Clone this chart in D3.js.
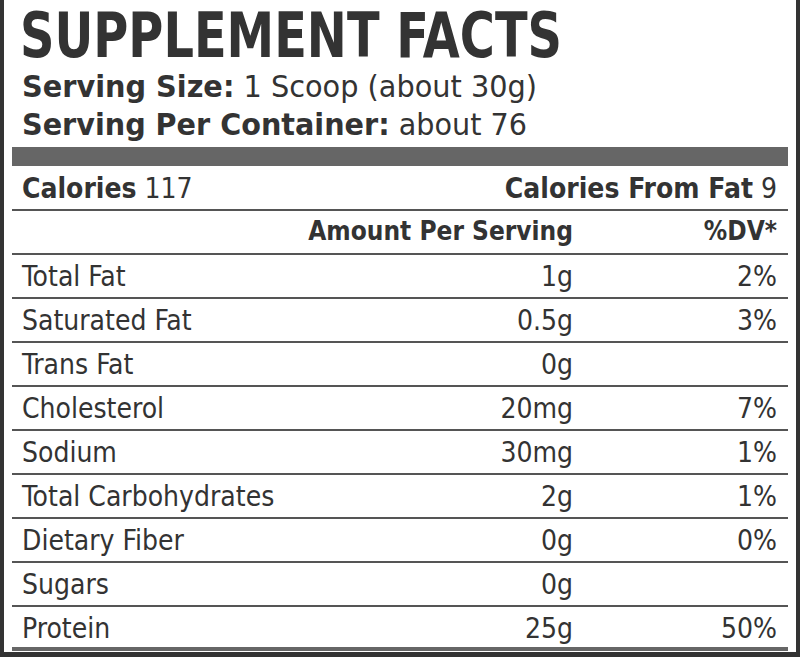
<!DOCTYPE html><html><head><meta charset="utf-8">
<script src="https://cdn.jsdelivr.net/npm/d3@7"></script>
<style>body{margin:0;background:#fff}</style></head><body>
<script>
const title = "SUPPLEMENT FACTS";
const servingInfo = [["Serving Size:", " 1 Scoop (about 30g)"], ["Serving Per Container:", " about 76"]];
const calories = ["Calories", " 117"];
const caloriesFat = ["Calories From Fat", " 9"];
const headers = ["Amount Per Serving", "%DV*"];
const nutrients = ["Total Fat","Saturated Fat","Trans Fat","Cholesterol","Sodium","Total Carbohydrates","Dietary Fiber","Sugars","Protein"];
const amounts = ["1g","0.5g","0g","20mg","30mg","2g","0g","0g","25g"];
const dv = ["2%","3%","","7%","1%","1%","0%","","50%"];

const W=800,H=657,C="#333";
const F="'DejaVu Sans Condensed','DejaVu Sans',sans-serif";
const svg=d3.select("body").append("svg").attr("width",W).attr("height",H);
svg.append("rect").attr("width",W).attr("height",H).attr("fill","#fff");
svg.append("rect").attr("x",0).attr("y",0).attr("width",4).attr("height",H).attr("fill",C);
svg.append("rect").attr("x",796).attr("y",0).attr("width",4).attr("height",H).attr("fill",C);
svg.append("rect").attr("x",0).attr("y",652).attr("width",W).attr("height",5).attr("fill",C);
svg.append("rect").attr("x",12).attr("y",147).attr("width",776).attr("height",19).attr("fill","#666");
svg.append("rect").attr("x",12).attr("y",647).attr("width",776).attr("height",4).attr("fill","#666");

svg.append("text").attr("x",20).attr("y",57).attr("font-family",F).attr("font-weight","bold")
 .attr("font-size",62).attr("fill",C).attr("textLength",542).attr("lengthAdjust","spacingAndGlyphs").text(title);
const sw=[515,505];
servingInfo.forEach((s,i)=>{
 const t=svg.append("text").attr("x",22).attr("y",97+i*38).attr("font-family",F).attr("font-size",31).attr("fill",C)
  .attr("textLength",sw[i]).attr("lengthAdjust","spacingAndGlyphs");
 t.append("tspan").attr("font-weight","bold").text(s[0]); t.append("tspan").text(s[1]);
});
const y=d3.scaleLinear().domain([0,1]).range([166,210]);
d3.range(1,11).forEach(k=>svg.append("rect").attr("x",12).attr("width",776).attr("y",y(k)-1).attr("height",2).attr("fill","#555"));
const row=(k)=>y(k)+32;
let t=svg.append("text").attr("x",22).attr("y",row(0)).attr("font-family",F).attr("font-size",28).attr("fill",C);
t.append("tspan").attr("font-weight","bold").text(calories[0]); t.append("tspan").text(calories[1]);
t=svg.append("text").attr("x",777).attr("y",row(0)).attr("text-anchor","end").attr("font-family",F).attr("font-size",28).attr("fill",C);
t.append("tspan").attr("font-weight","bold").text(caloriesFat[0]); t.append("tspan").text(caloriesFat[1]);
svg.append("text").attr("x",573).attr("y",row(1)-2).attr("text-anchor","end").attr("font-family",F).attr("font-weight","bold").attr("font-size",26).attr("fill",C).text(headers[0]);
svg.append("text").attr("x",777).attr("y",row(1)-2).attr("text-anchor","end").attr("font-family",F).attr("font-weight","bold").attr("font-size",26).attr("fill",C).text(headers[1]);
nutrients.forEach((n,i)=>{
 const yy=row(i+2);
 svg.append("text").attr("x",22).attr("y",yy).attr("font-family",F).attr("font-size",28).attr("fill",C).text(n);
 svg.append("text").attr("x",573).attr("y",yy).attr("text-anchor","end").attr("font-family",F).attr("font-size",28).attr("fill",C).text(amounts[i]);
 svg.append("text").attr("x",777).attr("y",yy).attr("text-anchor","end").attr("font-family",F).attr("font-size",28).attr("fill",C).text(dv[i]);
});
</script></body></html>
